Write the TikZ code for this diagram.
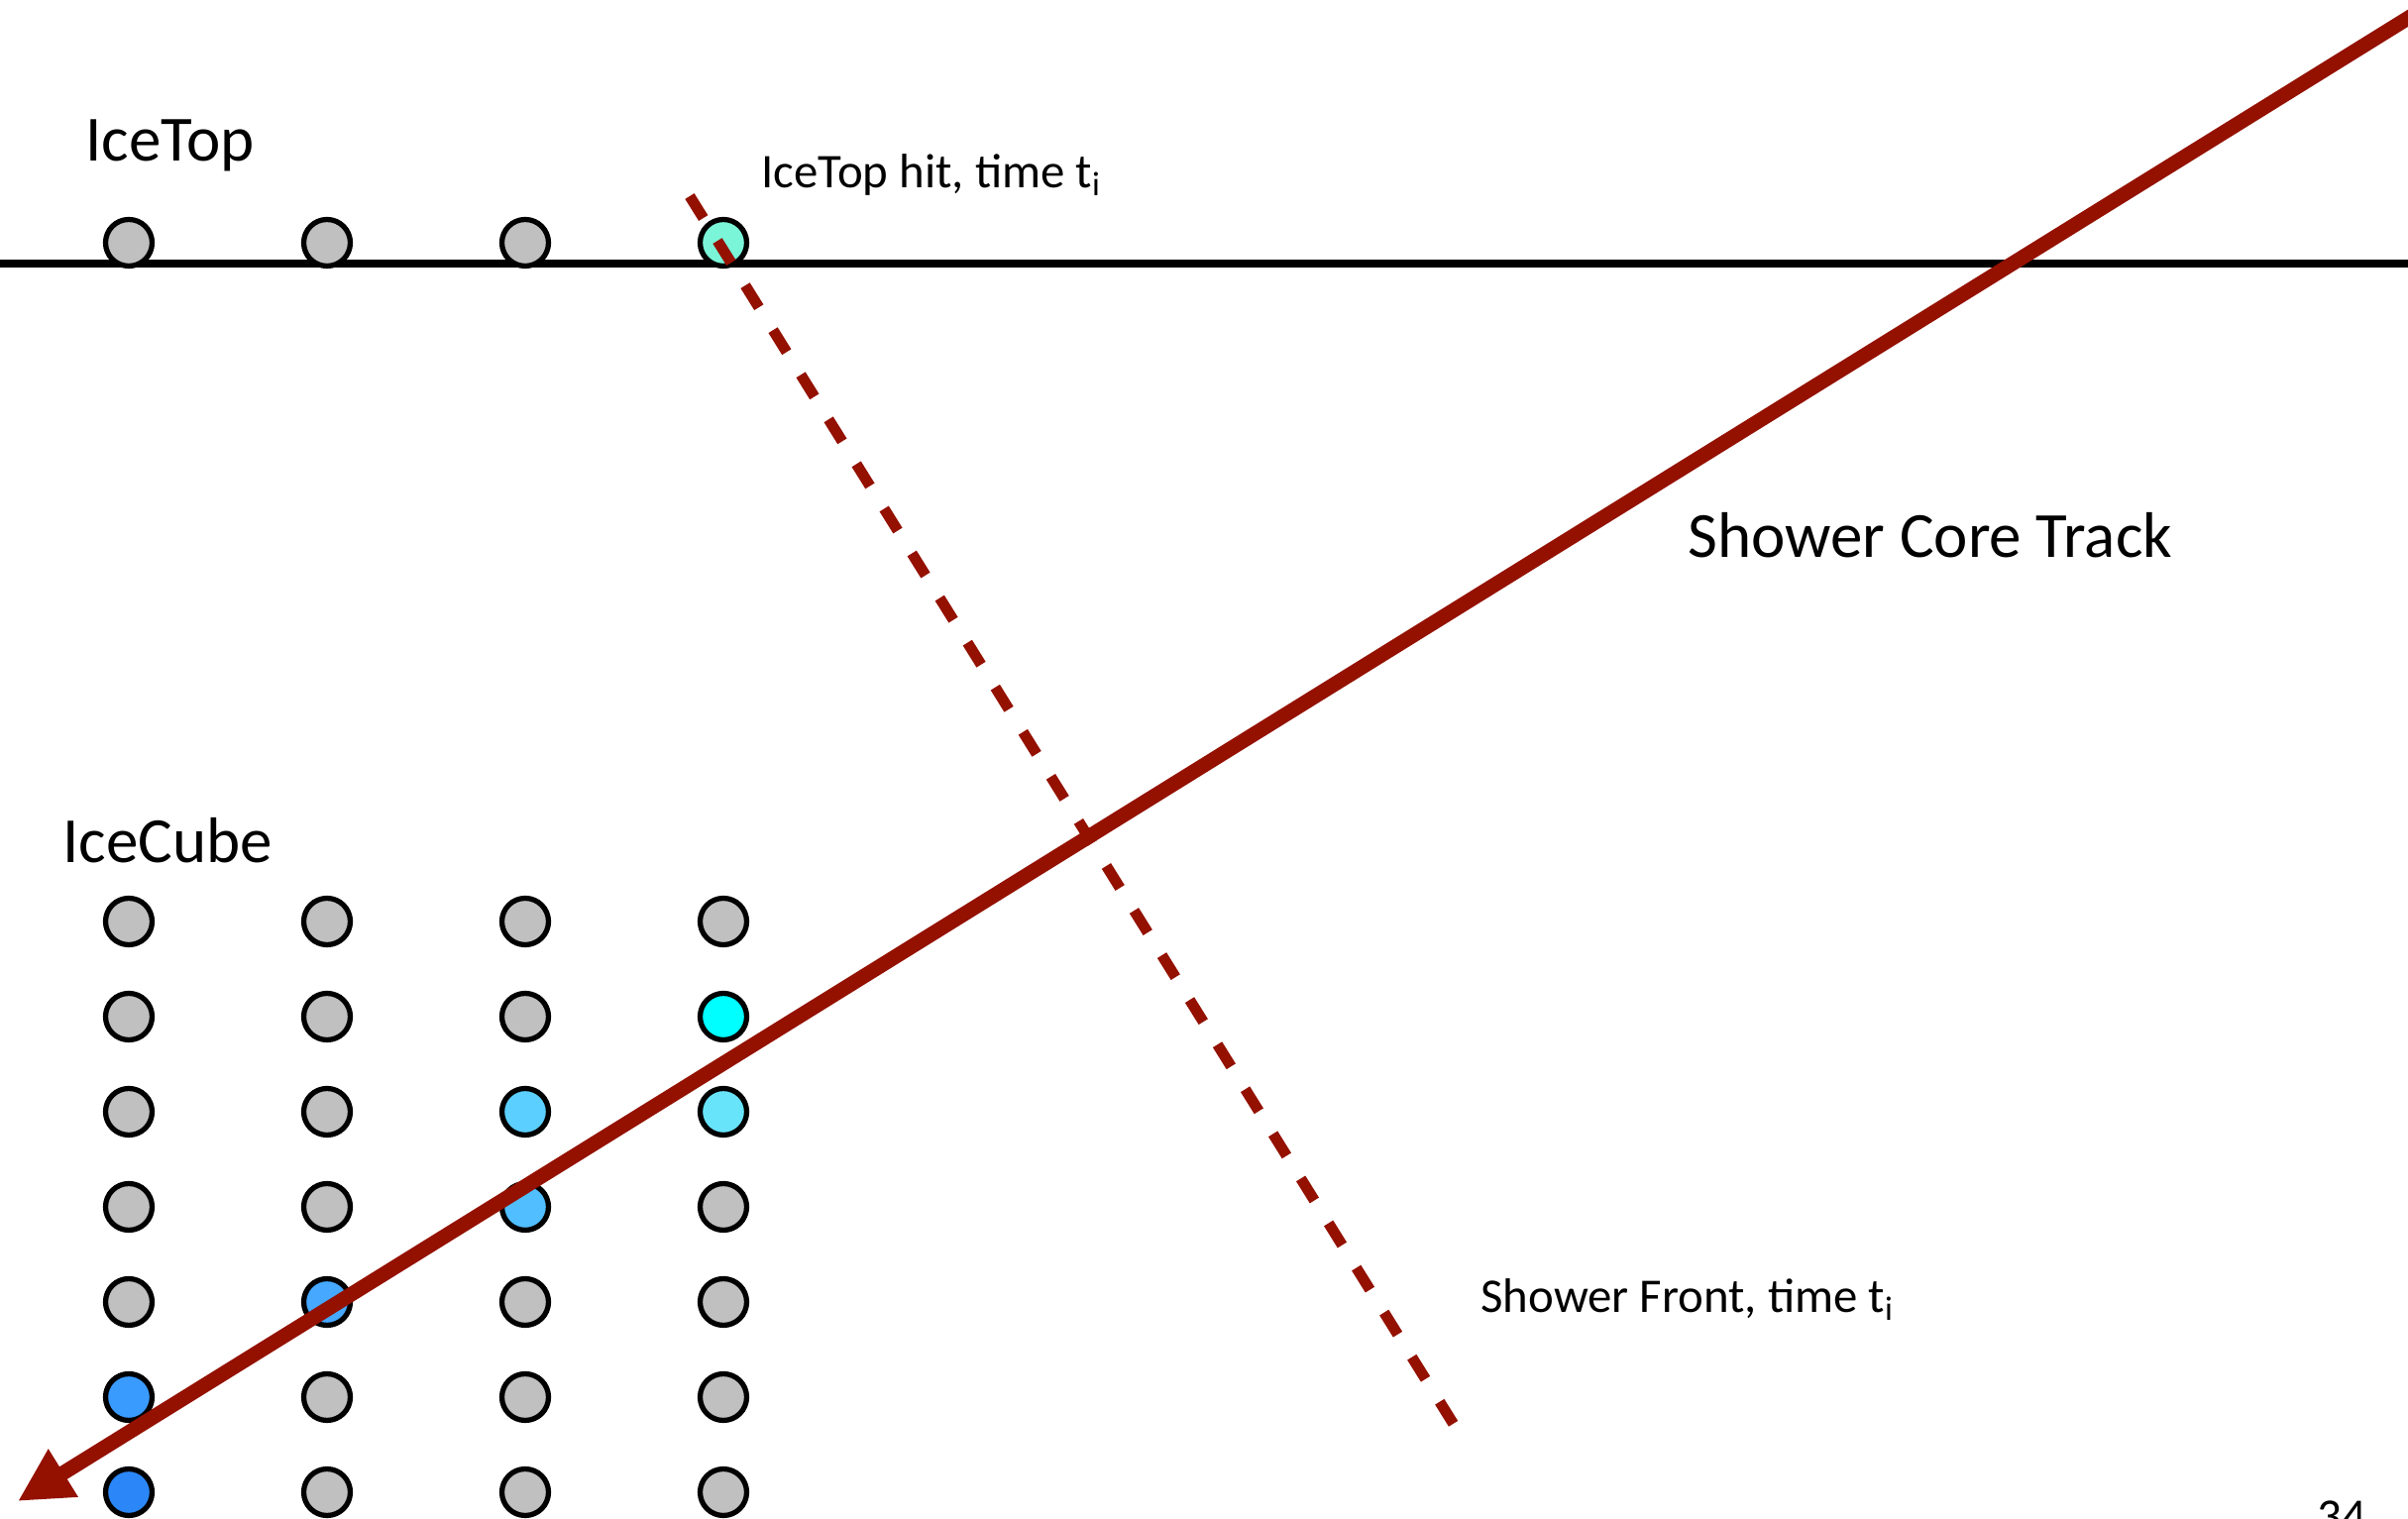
\documentclass[tikz,border=0pt]{standalone}
\usepackage{fontspec}
\setmainfont{Carlito}
\usetikzlibrary{arrows.meta}
\definecolor{spurrot}{RGB}{148,17,0}
\definecolor{grau}{RGB}{192,192,192}
\definecolor{treffer}{RGB}{122,245,215}
\definecolor{domA}{RGB}{0,255,255}
\definecolor{domB}{RGB}{91,207,255}
\definecolor{domC}{RGB}{104,228,250}
\definecolor{domD}{RGB}{80,190,255}
\definecolor{domE}{RGB}{70,168,255}
\definecolor{domF}{RGB}{58,155,255}
\definecolor{domG}{RGB}{43,135,247}
\tikzset{
  dom/.style={circle,draw=black,line width=1.5pt,fill=grau,minimum size=0.47cm,inner sep=0pt},
  gross/.style={font=\fontsize{18.5}{22}\selectfont,inner sep=0pt},
  klein/.style={font=\fontsize{13.9}{17}\selectfont,inner sep=0pt},
}
\begin{document}
\begin{tikzpicture}[>=Triangle,thick]
\useasboundingbox (0,0) rectangle (24.30,15.33);
%
% --- IceTop: Oberflaeche mit vier Tanks ---
\coordinate (bodenL) at (0,12.67);
\coordinate (bodenR) at (24.30,12.67);
\draw[line width=2.4pt] (bodenL) -- (bodenR);
\node[dom] (top1) at (1.30,12.88) {};
\node[dom] (top2) at (3.30,12.88) {};
\node[dom] (top3) at (5.30,12.88) {};
\node[dom,fill=treffer] (top4) at (7.30,12.88) {};
\node[gross,anchor=base west] (lblTop) at (0.85,13.70) {IceTop};
\node[klein,anchor=base west] (lblHit) at (7.67,13.43) {IceTop hit, time t\textsubscript{i}};
%
% --- IceCube: vier Strings mit je sieben DOMs ---
\foreach \farbe [count=\r] in {grau,grau,grau,grau,grau,domF,domG}
  \node[dom,fill=\farbe] (s1-\r) at (1.30,{6.03-0.96*(\r-1)}) {};
\foreach \farbe [count=\r] in {grau,grau,grau,grau,domE,grau,grau}
  \node[dom,fill=\farbe] (s2-\r) at (3.30,{6.03-0.96*(\r-1)}) {};
\foreach \farbe [count=\r] in {grau,grau,domB,domD,grau,grau,grau}
  \node[dom,fill=\farbe] (s3-\r) at (5.30,{6.03-0.96*(\r-1)}) {};
\foreach \farbe [count=\r] in {grau,domA,domC,grau,grau,grau,grau}
  \node[dom,fill=\farbe] (s4-\r) at (7.30,{6.03-0.96*(\r-1)}) {};
\node[gross,anchor=base west] (lblCube) at (0.62,6.62) {IceCube};
%
% --- Schauerfront (gestrichelt) ---
\coordinate (frontA) at (6.96,13.35);
\coordinate (frontB) at (14.71,0.89);
\draw[spurrot,line width=3.1pt,dash pattern=on 7.4pt off 7.7pt] (frontA) -- (frontB);
\node[klein,anchor=base west] (lblFront) at (14.93,2.08) {Shower Front, time t\textsubscript{i}};
%
% --- Spur des Schauerkerns ---
\coordinate (spurStart) at (24.70,15.395);
\coordinate (spurEnde) at (0.18,0.18);
\draw[spurrot,line width=4.2pt,-{Triangle[length=0.54cm,width=0.53cm]}] (spurStart) -- (spurEnde);
\node[gross,anchor=base west] (lblSpur) at (17.02,9.70) {Shower Core Track};
%
% Seitenzahl
\node[klein,anchor=north west] (seite) at (23.37,0.20) {34};
\end{tikzpicture}
\end{document}
